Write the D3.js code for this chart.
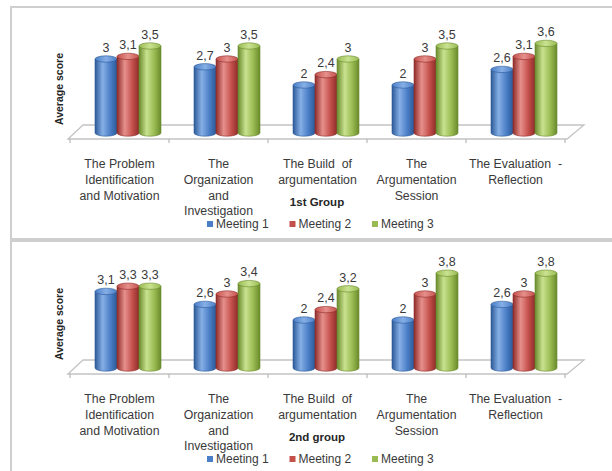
<!DOCTYPE html>
<html>
<head>
<meta charset="utf-8">
<script src="https://cdn.jsdelivr.net/npm/d3@7"></script>
<style>
  html, body { margin: 0; padding: 0; background: #fff; }
  svg { display: block; }
  text { font-family: "Liberation Sans", Arial, sans-serif; }
</style>
</head>
<body>
<script>
// Categories (phases of the lesson) and meeting series
const categories = [
  "The Problem Identification and Motivation",
  "The Organization and Investigation",
  "The Build of argumentation",
  "The Argumentation Session",
  "The Evaluation - Reflection"
];
const categoryLines = [
  ["The Problem", "Identification", "and Motivation"],
  ["The", "Organization", "and", "Investigation"],
  ["The Build  of", "argumentation"],
  ["The", "Argumentation", "Session"],
  ["The Evaluation  -", "Reflection"]
];
const seriesNames = ["Meeting 1", "Meeting 2", "Meeting 3"];

// 1st group average scores
const group1Meeting1 = [3, 2.7, 2, 2, 2.6];
const group1Meeting2 = [3.1, 3, 2.4, 3, 3.1];
const group1Meeting3 = [3.5, 3.5, 3, 3.5, 3.6];

// 2nd group average scores
const group2Meeting1 = [3.1, 2.6, 2, 2, 2.6];
const group2Meeting2 = [3.3, 3, 2.4, 3, 3];
const group2Meeting3 = [3.3, 3.4, 3.2, 3.8, 3.8];

const panelTitles = ["1st Group", "2nd group"];
const yAxisTitle = "Average score";

const W = 612, H = 471;
const svg = d3.select("body").append("svg").attr("width", W).attr("height", H);

// cylinder colours: [dark edge, base, highlight]
const palette = [
  ["#2c5a98", "#4a7ec6", "#86afe6"],
  ["#8e2c29", "#c4504c", "#e6908c"],
  ["#6a8a2c", "#99bb52", "#c9e290"]
];
const legendColors = ["#4a7ec6", "#c4504c", "#99bb52"];

const defs = svg.append("defs");
palette.forEach((c, i) => {
  const lg = defs.append("linearGradient").attr("id", "cyl" + i)
    .attr("x1", "0%").attr("x2", "100%").attr("y1", "0%").attr("y2", "0%");
  lg.append("stop").attr("offset", "0%").attr("stop-color", c[0]);
  lg.append("stop").attr("offset", "35%").attr("stop-color", c[2]);
  lg.append("stop").attr("offset", "70%").attr("stop-color", c[1]);
  lg.append("stop").attr("offset", "100%").attr("stop-color", c[0]);
  const tg = defs.append("linearGradient").attr("id", "top" + i)
    .attr("x1", "0%").attr("x2", "100%");
  tg.append("stop").attr("offset", "0%").attr("stop-color", c[1]);
  tg.append("stop").attr("offset", "50%").attr("stop-color", c[2]);
  tg.append("stop").attr("offset", "100%").attr("stop-color", c[1]);
});

const fmt = v => String(v).replace(".", ",");

// horizontal band scale over the floor front edge
const x = d3.scaleBand().domain(d3.range(categories.length)).range([70, 565]).paddingInner(0).paddingOuter(0);
const xInner = d3.scaleBand().domain(d3.range(seriesNames.length)).range([0, 66]);
// y: centre of the cylinder top for a value
const y = d3.scaleLinear().domain([0, 4]).range([137, 33]);

const depthX = 15, depthY = -14;     // floor depth offset
const floorFront = 139;
const baseY = floorFront + depthY / 2 + 1; // bar base sits mid-depth
const ry = 3.2;

function drawPanel(offsetY, seriesVals, title) {
  const g = svg.append("g").attr("transform", `translate(0,${offsetY})`);

  // floor parallelogram
  const x0 = x.range()[0] - 2, x1 = x.range()[1] + 2;
  g.append("path")
    .attr("d", `M${x0},${floorFront} L${x0 + depthX},${floorFront + depthY} L${x1 + depthX + 2},${floorFront + depthY} L${x1},${floorFront} Z`)
    .attr("fill", "none").attr("stroke", "#c4c4c4").attr("stroke-width", 1.3);

  // category ticks on the front edge
  const ticks = d3.range(categories.length + 1).map(i => i < categories.length ? x(i) : x.range()[1]);
  g.selectAll("line.tick").data(ticks).join("line")
    .attr("x1", d => d).attr("x2", d => d)
    .attr("y1", floorFront).attr("y2", floorFront + 4)
    .attr("stroke", "#b8b8b8").attr("stroke-width", 1.2);

  // cylinders
  seriesVals.forEach((vals, s) => {
    const bw = xInner.bandwidth();
    vals.forEach((v, i) => {
      const left = x(i) + (x.bandwidth() - 66) / 2 + depthX / 2 + 1 + xInner(s);
      const cx = left + bw / 2;
      const topY = y(v);
      const bg = g.append("g");
      // body
      bg.append("path")
        .attr("d", `M${left},${topY} L${left},${baseY} A${bw / 2},${ry} 0 0 0 ${left + bw},${baseY} L${left + bw},${topY} Z`)
        .attr("fill", `url(#cyl${s})`)
        .attr("stroke", palette[s][0]).attr("stroke-width", 0.6);
      // top cap
      bg.append("ellipse")
        .attr("cx", cx).attr("cy", topY).attr("rx", bw / 2).attr("ry", ry)
        .attr("fill", `url(#top${s})`)
        .attr("stroke", palette[s][0]).attr("stroke-width", 0.6);
      // value label
      g.append("text")
        .attr("x", cx).attr("y", topY - ry - 4)
        .attr("text-anchor", "middle")
        .attr("font-size", 12.5).attr("fill", "#3a3a3a")
        .text(fmt(v));
    });
  });

  // category labels
  categoryLines.forEach((lines, i) => {
    const t = g.append("text")
      .attr("x", x(i) + x.bandwidth() / 2)
      .attr("y", 168)
      .attr("text-anchor", "middle")
      .attr("font-size", 12.3).attr("fill", "#3a3a3a");
    lines.forEach((ln, k) => {
      t.append("tspan").attr("x", x(i) + x.bandwidth() / 2)
        .attr("dy", k === 0 ? 0 : 15.8)
        .attr("xml:space", "preserve")
        .text(ln);
    });
  });

  // y-axis title
  g.append("text")
    .attr("transform", "translate(63,89) rotate(-90)")
    .attr("text-anchor", "middle")
    .attr("font-size", 10.5).attr("font-weight", "bold").attr("fill", "#262626")
    .text(yAxisTitle);

  // panel title
  g.append("text")
    .attr("x", 317).attr("y", 206)
    .attr("text-anchor", "middle")
    .attr("font-size", 11.5).attr("font-weight", "bold").attr("fill", "#262626")
    .text(title);

  // legend
  const lx = d3.scalePoint().domain(d3.range(seriesNames.length)).range([207, 372]);
  seriesNames.forEach((name, s) => {
    g.append("rect").attr("x", lx(s)).attr("y", 221).attr("width", 6).attr("height", 6)
      .attr("fill", legendColors[s]);
    g.append("text").attr("x", lx(s) + 9).attr("y", 228)
      .attr("font-size", 12).attr("fill", "#3a3a3a")
      .text(name);
  });
}

// panel frames
svg.append("rect").attr("x", 11).attr("y", 7).attr("width", 640).attr("height", 232)
  .attr("fill", "none").attr("stroke", "#cfcfcf").attr("stroke-width", 2);
svg.append("rect").attr("x", 11).attr("y", 241).attr("width", 640).attr("height", 260)
  .attr("fill", "none").attr("stroke", "#cfcfcf").attr("stroke-width", 2);

drawPanel(0, [group1Meeting1, group1Meeting2, group1Meeting3], panelTitles[0]);
drawPanel(235, [group2Meeting1, group2Meeting2, group2Meeting3], panelTitles[1]);
</script>
</body>
</html>
